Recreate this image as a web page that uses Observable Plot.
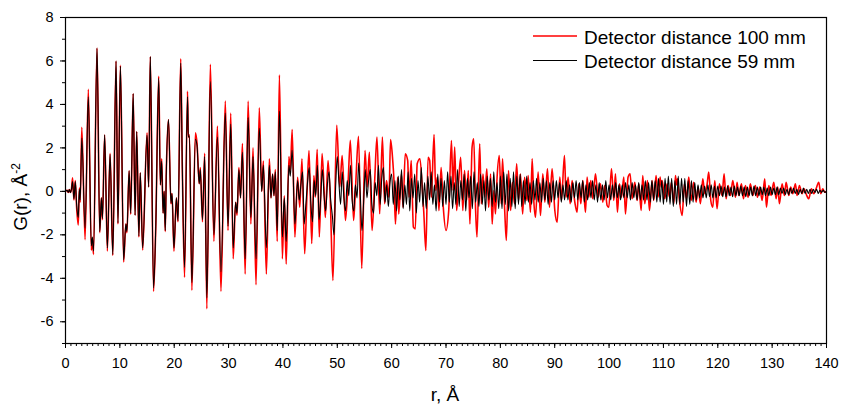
<!DOCTYPE html>
<html><head><meta charset="utf-8">
<script src="https://cdn.jsdelivr.net/npm/d3@7"></script>
<script src="https://cdn.jsdelivr.net/npm/@observablehq/plot@0.6"></script>
<style>
body{margin:0;background:#fff}
#chart svg{font-family:"Liberation Sans",Arial,sans-serif}
</style>
</head><body><div id="chart"></div>
<script>
// ---- tick labels ----
const xTicks = [0,10,20,30,40,50,60,70,80,90,100,110,120,130,140];
const yTicks = [-6,-4,-2,0,2,4,6,8];
const seriesNames = ["Detector distance 100 mm", "Detector distance 59 mm"];

// ---- Detector distance 100 mm (red): [r, G(r)] read at extrema ----
const red100Low = [[0,0],[0.3,0.05],[0.5,-0.05],[0.7,0.08],[0.9,-0.05],[1.1,0.1],[1.3,0.63],[1.55,-0.4],[1.8,0.5],[2.05,-0.75],[2.35,-1.55],[2.55,0.15],[2.7,-0.5],[3.0,2.95],[3.6,-2.22],[4.2,4.7],[4.75,-2.7],[4.95,-2.2],[5.15,-2.9],[5.8,6.6],[6.3,-1.9],[6.6,-0.3],[6.8,-1.3],[7.2,2.6],[7.7,-2.75],[8.2,1.75],[8.7,-2.95],[9.3,6.0],[9.65,-1.5],[10.1,5.8],[10.7,-3.25],[11.1,-1.5],[11.3,-1.9],[11.7,0.95],[12.0,-1.05],[12.45,4.5],[12.8,-1.1],[13.1,2.75],[13.5,-2.1],[13.75,0.85],[14.2,-2.7],[15.0,2.7],[15.3,0.2],[15.6,6.2],[16.2,-4.6],[16.6,-1.7],[17.15,5.3],[17.45,0.3],[17.7,1.5],[17.95,-1.0],[18.15,0.0],[18.35,-1.85],[18.55,0.95],[18.95,3.3],[19.4,-0.57],[19.6,-0.1],[19.95,-2.75],[20.4,-0.3],[20.7,-1.4],[21.2,6.1],[21.5,0.96],[21.9,-3.95],[22.45,4.6],[22.6,2.5],[22.8,2.6],[23.25,-4.55],[23.9,2.7],[24.2,2.2],[24.6,0.35],[24.8,1.1],[25.2,-1.4],[25.6,1.75],[26.0,-5.4],[26.65,5.85],[27.3,-2.3],[27.95,3.0],[28.6,-4.6],[29.4,4.15],[29.9,-1.8],[30.4,3.6],[30.85,-3.1],[31.3,-0.5],[31.55,-1.1],[31.9,1.1],[32.2,-0.3],[32.55,2.2],[33.05,-3.8],[33.6,4.15],[34.1,-1.5],[34.5,2.0],[35.05,-4.3],[35.65,3.85],[36.1,0.0],[36.4,1.4],[36.95,-3.8],[37.5,1.5],[37.8,-0.3],[38.1,0.8],[38.35,-0.2],[38.6,1.0],[38.95,-2.3],[39.35,5.35],[39.9,-3.1],[40.25,-0.2],[40.6,-3.35],[41.1,1.6],[41.35,0.9],[41.7,2.85],[42.2,-2.1],[42.7,0.65],[43.1,-0.73]];

const red100Mid = [[43.5,1.5],[44.0,-2.87],[44.4,-0.3],[44.8,1.88],[45.3,-2.4],[45.7,0.73],[45.95,-0.27],[46.3,1.93],[46.7,-2.1],[47.2,1.74],[47.55,0.2],[47.8,-1.2],[48.3,1.42],[48.7,-0.3],[49.2,-4.1],[49.9,3.04],[50.45,0.2],[50.9,1.65],[51.5,-1.34],[52.0,0.5],[52.4,2.35],[53.0,-1.34],[53.4,0.4],[53.9,2.53],[54.5,-3.55],[55.1,1.88],[55.5,0.2],[55.9,1.8],[56.4,-1.8],[56.9,0.6],[57.3,2.5],[57.8,-1.03],[58.3,2.5],[58.7,-0.57],[59.05,0.5],[59.5,-0.27],[59.8,2.38],[60.2,1.42],[60.4,0.65],[60.7,-1.5],[61.1,0.65],[61.3,-1.04],[61.8,0.8],[62.1,-0.73],[62.5,1.73],[62.95,1.42],[63.2,-0.27],[63.6,1.42],[64.0,-1.65],[64.35,-1.73],[64.7,1.27],[65.2,1.5],[65.7,-0.1],[65.9,-0.9],[66.3,-2.72],[66.7,1.57],[67.0,1.42],[67.3,-0.27],[67.8,2.62],[68.1,0.04],[68.4,0.65],[68.7,-0.88],[69.1,1.1],[69.5,-0.73],[70.0,-1.8],[70.5,-0.88],[71.0,2.34],[71.3,0.04],[71.6,2.04],[71.95,-0.88],[72.3,0.35],[72.7,1.57],[73.1,-0.88],[73.4,0.96],[73.8,-0.42],[74.1,0.96],[74.4,-1.5],[74.8,2.04],[75.1,2.42],[75.45,-0.88],[75.7,-2.1],[76.2,2.19],[76.5,-0.57],[76.8,0.8],[77.15,-0.27],[77.5,1.04],[77.85,-0.73],[78.2,0.8],[78.5,-1.5],[78.8,0.04],[79.1,-1.04],[79.4,0.65],[79.8,1.65],[80.15,-0.57],[80.4,1.5],[80.8,-0.88],[81.1,-2.26],[81.5,0.96],[81.9,-0.88],[82.2,0.42],[82.6,-0.57],[83.0,1.27],[83.35,-0.42],[83.7,0.8],[84.1,-1.04],[84.45,0.65],[84.9,-0.42]];

const red100High = [[85.11,0.73],[85.54,-0.96],[85.85,1.5],[86.15,-0.42],[86.46,-1.19],[86.95,0.89],[87.38,-1.11],[87.81,0.81],[88.18,-0.5],[88.67,1.04],[89.03,-0.73],[89.52,1.04],[90.02,-0.88],[90.44,-1.42],[90.94,0.66],[91.24,-0.42],[91.79,1.65],[92.1,-0.27],[92.47,0.66],[92.84,-0.57],[93.2,0.5],[93.7,-0.5],[94.12,-0.96],[94.43,0.35],[94.8,-0.57],[95.17,0.5],[95.66,-0.96],[95.96,0.66],[96.27,-0.27],[96.64,0.5],[97.0,-0.34],[97.5,0.81],[97.99,-0.27],[98.42,0.35],[98.84,-0.5],[99.21,0.27],[99.64,-0.65],[99.95,-0.73],[100.44,1.04],[100.87,-0.42],[101.17,0.81],[101.54,-0.96],[101.91,0.35],[102.28,-0.27],[102.71,0.66],[103.01,-1.04],[103.5,0.66],[103.87,0.81],[104.24,-0.34],[104.73,0.42],[105.16,-0.42],[105.47,0.35],[105.9,-0.88],[106.2,0.73],[106.57,-0.57],[107.06,0.5],[107.43,-0.88],[107.92,0.5],[108.22,-0.42],[108.65,0.73],[109.02,-0.27],[109.39,0.66],[109.58,0.2],[109.76,0.5],[110.25,-0.34],[110.68,0.35],[111.11,-0.27],[111.47,0.42],[111.9,-0.57],[112.21,0.73],[112.4,0.3],[112.58,0.58],[112.95,-0.42],[113.44,-1.11],[113.87,0.35],[114.23,-0.34],[114.66,0.66],[115.09,-0.42],[115.58,0.42],[116.01,-0.5],[116.38,0.2],[116.81,-0.57],[117.24,0.58],[117.61,-0.11],[118.04,0.35],[118.34,0.89],[118.71,-0.42],[119.08,-0.73],[119.45,0.5],[119.87,-0.8],[120.3,0.35],[120.79,-0.19],[121.16,0.81],[121.53,-0.34],[121.9,0.27],[122.33,-0.19],[122.76,0.5],[123.25,-0.27],[123.55,0.42],[123.86,-0.19],[124.35,0.35],[124.72,-0.34],[125.09,0.27],[125.58,-0.27],[126.0,0.35],[126.44,-0.19],[126.93,0.27],[127.29,-0.27],[127.72,0.2],[128.15,-0.42],[128.64,0.58],[128.95,-0.73],[129.38,0.27],[129.8,-0.19],[130.3,0.42],[130.73,-0.34],[131.03,0.2],[131.34,-0.57],[131.83,0.35],[132.26,-0.19],[132.57,0.42],[133.06,-0.19],[133.42,0.2],[133.79,-0.11],[134.28,0.35],[134.59,-0.19],[135.02,0.27],[135.51,-0.11],[135.88,0.12],[136.24,-0.11],[136.73,-0.34],[137.23,0.12],[137.66,-0.11],[138.08,0.12],[138.58,0.42],[138.94,-0.11],[139.31,0.12],[139.68,-0.04],[140,0.0]];

// ---- Detector distance 59 mm (black): [r, G(r)] read at extrema below 43 Å ----
const black59Low = [[0,0],[0.3,0.05],[0.5,-0.05],[0.7,0.08],[0.9,-0.05],[1.1,0.1],[1.3,0.45],[1.55,-0.35],[1.8,0.45],[2.05,-0.6],[2.35,-1.2],[2.55,0.1],[2.7,-0.4],[3.0,2.45],[3.6,-1.7],[4.2,4.35],[4.75,-2.5],[4.95,-2.1],[5.15,-2.75],[5.8,6.6],[6.3,-1.85],[6.6,-0.3],[6.8,-1.25],[7.2,2.6],[7.7,-2.6],[8.2,1.7],[8.7,-2.9],[9.3,6.0],[9.65,-1.45],[10.1,5.75],[10.7,-3.15],[11.1,-1.5],[11.3,-1.85],[11.7,0.95],[12.0,-1.0],[12.45,4.5],[12.8,-1.1],[13.1,2.75],[13.5,-2.05],[13.75,0.85],[14.2,-2.6],[15.0,2.6],[15.3,0.2],[15.6,6.2],[16.2,-4.45],[16.6,-1.7],[17.15,5.2],[17.45,0.3],[17.7,1.4],[17.95,-1.0],[18.15,0.0],[18.35,-1.8],[18.55,0.9],[18.95,3.3],[19.4,-0.55],[19.6,-0.1],[19.95,-2.6],[20.4,-0.3],[20.7,-1.35],[21.2,5.9],[21.5,0.9],[21.9,-3.5],[22.45,4.35],[22.6,2.5],[22.8,2.55],[23.25,-4.2],[23.9,2.4],[24.2,2.1],[24.6,0.35],[24.8,1.0],[25.2,-1.3],[25.6,1.6],[26.0,-4.9],[26.65,5.05],[27.3,-2.0],[27.95,2.5],[28.6,-3.7],[29.4,3.6],[29.9,-1.6],[30.4,3.1],[30.85,-2.6],[31.3,-0.5],[31.55,-1.0],[31.9,1.0],[32.2,-0.3],[32.55,1.8],[33.05,-3.1],[33.6,3.4],[34.1,-1.2],[34.5,1.6],[35.05,-3.1],[35.65,2.9],[36.1,0.0],[36.4,1.2],[36.95,-2.6],[37.5,1.2],[37.8,-0.3],[38.1,0.8],[38.35,-0.2],[38.6,0.9],[38.95,-1.8],[39.35,3.7],[39.9,-2.1],[40.25,-0.3],[40.6,-2.3],[41.1,1.2],[41.35,0.7],[41.7,1.9],[42.2,-1.5],[42.7,0.5]];

// black above 43 Å: values read on an even r grid, one list per r range [start, end)
const black59_43_50 = [-0.4,0.3,0.9,-1.5,-0.6,0.4,1.1,-0.5,-1.4,0.5,-0.2,1.2,-1.3,-0.3,1.0,-0.2,-0.9,0.3,0.9,-0.4,-1.1,-2.0,0.2];
const black59_50_60 = [1.6,0.4,-0.6,0.9,-0.3,-0.9,0.5,-0.2,1.2,-0.4,-0.9,0.3,-0.3,1.3,-0.2,-1.8,-0.5,1.0,-0.3,0.5,1.0,-0.6,-1.0,0.4,-0.2,1.2,-0.6,0.6,1.1,-0.5,0.3,-0.7,0.4];
const black59_60_70 = [0.8,-0.6,0.5,-0.9,0.7,-0.4,1.0,-0.8,0.3,-0.6,0.9,-0.9,0.6,-0.3,0.8,-1.0,0.5,-0.5,1.1,-0.7,0.4,-0.8,0.7,-0.4,0.9,-0.6,0.3,-0.9,0.8,-0.5,0.6,-0.7,0.5];
const black59_70_80 = [-0.6,0.9,-0.5,0.7,-0.8,0.4,-0.6,1.0,-0.7,0.5,-0.4,0.8,-0.9,0.6,-0.3,0.7,-0.8,0.9,-0.5,0.4,-0.7,0.8,-0.6,0.5,-0.9,0.7,-0.4,0.6,-0.7,0.9,-0.5,0.4,-0.8];
const black59_80_90 = [0.7,-0.8,0.9,-0.6,0.8,-0.9,0.6,-0.7,0.9,-0.8,0.7,-0.6,0.8,-0.7,0.5,-0.6,0.7,-0.5,0.4,-0.6,0.5,-0.4,0.6,-0.5,0.4,-0.5,0.6,-0.4,0.5,-0.6,0.4,-0.5,0.5];
const black59_90_100 = [-0.4,0.5,-0.3,0.4,-0.5,0.3,-0.4,0.5,-0.4,0.3,-0.5,0.4,-0.3,0.5,-0.4,0.4,-0.3,0.5,-0.5,0.3,-0.4,0.4,-0.3,0.5,-0.4,0.3,-0.5,0.4,-0.4,0.3,-0.4,0.5,-0.3];
const black59_100_110 = [0.3,-0.4,0.3,-0.3,0.4,-0.3,0.3,-0.4,0.3,-0.3,0.4,-0.3,0.3,-0.4,0.4,-0.3,0.3,-0.4,0.4,-0.4,0.3,-0.4,0.5,-0.4,0.4,-0.5,0.5,-0.4,0.5,-0.5,0.6,-0.5,0.5];
const black59_110_120 = [-0.6,0.6,-0.5,0.7,-0.6,0.6,-0.7,0.5,-0.6,0.7,-0.6,0.6,-0.5,0.6,-0.7,0.5,-0.6,0.5,-0.5,0.4,-0.4,0.3,-0.3,0.3,-0.3,0.25,-0.3,0.3,-0.25,0.3,-0.3,0.25,-0.3];
const black59_120_130 = [0.25,-0.2,0.25,-0.25,0.2,-0.25,0.25,-0.2,0.2,-0.25,0.25,-0.2,0.2,-0.2,0.25,-0.2,0.2,-0.25,0.2,-0.2,0.2,-0.2,0.25,-0.2,0.2,-0.2,0.2,-0.15,0.2,-0.2,0.15,-0.2,0.2];
const black59_130_140 = [-0.15,0.15,-0.15,0.2,-0.15,0.15,-0.1,0.15,-0.15,0.1,-0.15,0.15,-0.1,0.15,-0.1,0.1,-0.15,0.1,-0.1,0.15,-0.1,0.1,-0.1,0.1,-0.1,0.1,-0.05,0.1,-0.1,0.05,-0.05,0.05,-0.05,0.0];

// ---- assemble tables ----
const toRows = pairs => pairs.map(([r, g]) => ({r, g}));
const gridRows = (start, end, vals, last) => vals.map((g, i) => ({r: start + i * (end - start) / (last ? vals.length - 1 : vals.length), g}));

const redRows = toRows([...red100Low, ...red100Mid, ...red100High]);
const blackRows = [
  ...toRows(black59Low),
  ...gridRows(43, 50, black59_43_50),
  ...gridRows(50, 60, black59_50_60),
  ...gridRows(60, 70, black59_60_70),
  ...gridRows(70, 80, black59_70_80),
  ...gridRows(80, 90, black59_80_90),
  ...gridRows(90, 100, black59_90_100),
  ...gridRows(100, 110, black59_100_110),
  ...gridRows(110, 120, black59_110_120),
  ...gridRows(120, 130, black59_120_130),
  ...gridRows(130, 140, black59_130_140, true)
];

const xMinor = d3.range(0, 141, 1);
const yMinor = d3.range(-7, 9, 1);
const fmt = d => String(d);

const plot = Plot.plot({
  width: 841, height: 407,
  marginLeft: 65, marginRight: 15, marginTop: 17, marginBottom: 64,
  style: {background: "#fff", color: "#000", fontFamily: "'Liberation Sans', Arial, sans-serif", fontSize: "14.5px", overflow: "visible"},
  x: {domain: [0, 140]},
  y: {domain: [-7, 8]},
  marks: [
    Plot.line(redRows, {x: "r", y: "g", stroke: "#ff0000", strokeWidth: 1.6, curve: "monotone-x", clip: true}),
    Plot.line(blackRows, {x: "r", y: "g", stroke: "#000", strokeWidth: 1.1, curve: "monotone-x", clip: true}),
    Plot.frame({stroke: "#000", strokeWidth: 1.2}),
    Plot.axisX({ticks: xMinor, tickSize: 3, tickFormat: () => "", label: null}),
    Plot.axisX({ticks: xTicks, tickSize: 5, tickPadding: 9, tickFormat: fmt, label: null, fontSize: 14.5}),
    Plot.axisY({ticks: yMinor, tickSize: 3, tickFormat: () => "", label: null}),
    Plot.axisY({ticks: yTicks, tickSize: 5, tickPadding: 7, tickFormat: fmt, label: null, fontSize: 14.5})
  ]
});
document.getElementById("chart").appendChild(plot);

// ---- axis titles and legend (annotation, not data) ----
const svg = d3.select(plot);
const font = "'Liberation Sans', Arial, sans-serif";
svg.append("text").attr("x", 445).attr("y", 401).attr("text-anchor", "middle")
  .attr("font-family", font).attr("font-size", 19).attr("fill", "#000").text("r, Å");
const yl = svg.append("text").attr("transform", "translate(27,197) rotate(-90)").attr("text-anchor", "middle")
  .attr("font-family", font).attr("font-size", 19).attr("fill", "#000");
yl.append("tspan").text("G(r), Å");
yl.append("tspan").attr("dy", -7).attr("font-size", 12).text("-2");

const legendColors = ["#ff0000", "#000"];
seriesNames.forEach((name, i) => {
  const y = 36 + i * 24.5;
  svg.append("line").attr("x1", 533).attr("x2", 577).attr("y1", y).attr("y2", y)
    .attr("stroke", legendColors[i]).attr("stroke-width", i === 0 ? 1.6 : 1.1);
  svg.append("text").attr("x", 584).attr("y", y + 1).attr("dominant-baseline", "central")
    .attr("text-anchor", "start")
    .attr("font-family", font).attr("font-size", 19).attr("fill", "#000").text(name);
});
</script>
</body></html>
